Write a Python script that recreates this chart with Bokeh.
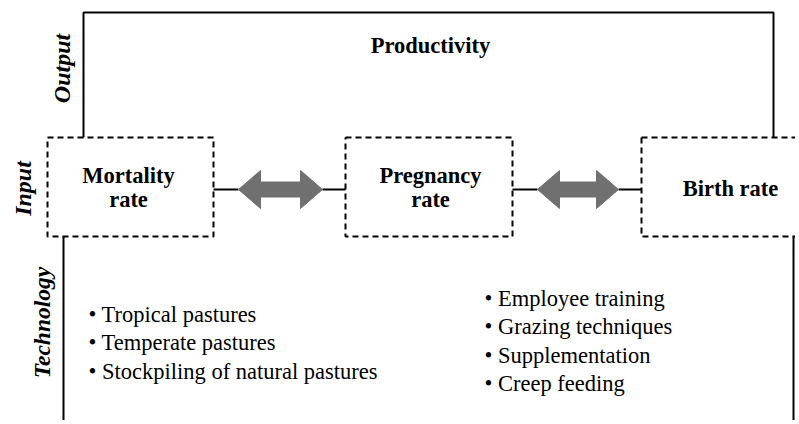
from bokeh.plotting import figure
from bokeh.models import Range1d
from bokeh.core.properties import value
from bokeh.embed import file_html
from bokeh.resources import INLINE
import math

# ---- content ----
output_label = "Output"
input_label = "Input"
tech_label = "Technology"
output_text = "Productivity"
box_lines = [["Mortality", "rate"], ["Pregnancy", "rate"], ["Birth rate"]]
left_bullets = ["Tropical pastures", "Temperate pastures", "Stockpiling of natural pastures"]
right_bullets = ["Employee training", "Grazing techniques", "Supplementation", "Creep feeding"]

# ---- layout constants (pixel space: data coords == image coords) ----
W, H = 795, 420
FONT = "Liberation Serif"
p = figure(width=W, height=H, output_backend="svg", toolbar_location=None,
           x_range=Range1d(0, W), y_range=Range1d(H, 0),
           min_border=0, outline_line_color=None)
p.axis.visible = False
p.grid.visible = False

BLACK = "#000000"
GREY = "#707070"

# Output bracket
p.line([83, 83, 773, 773], [137, 12, 12, 137], line_color=BLACK, line_width=2)

# Dashed input boxes
boxes = [(47, 213), (345, 512), (641, 830)]
for x0, x1 in boxes:
    p.line([x0, x1, x1, x0, x0], [137, 137, 236, 236, 137], line_color=BLACK,
           line_width=2, line_dash="6 4")

# Technology bracket (sides)
p.line([63, 63], [236, 430], line_color=BLACK, line_width=2)
p.line([793, 793], [236, 430], line_color=BLACK, line_width=2)

# Connectors with double arrows
def double_arrow(xa, xb, y, head=22, hh=19, sh=7.5):
    xs = [xa, xa + head, xa + head, xb - head, xb - head, xb, xb - head, xb - head, xa + head, xa + head]
    ys = [y, y - hh, y - sh, y - sh, y - hh, y, y + hh, y + sh, y + sh, y + hh]
    p.patch(xs, ys, fill_color=GREY, line_color=GREY, line_width=1)

CY = 189
for (l0, a0, a1, l1) in [(213, 238, 322, 345), (512, 537, 618, 641)]:
    p.line([l0, a0], [CY, CY], line_color=BLACK, line_width=2)
    p.line([a1, l1], [CY, CY], line_color=BLACK, line_width=2)
    double_arrow(a0, a1, CY)

def txt(x, y, s, size, style="normal", align="center", angle=0.0):
    p.text(x=[x], y=[y], text=[s], text_font=value(FONT), text_font_size=f"{size}px",
           text_font_style=style, text_align=align, text_baseline="middle",
           text_color=BLACK, angle=angle)

txt(430, 45, output_text, 22.5, "bold")
txt(128, 175, box_lines[0][0], 22.5, "bold")
txt(128, 199, box_lines[0][1], 22.5, "bold")
txt(430, 175, box_lines[1][0], 22.5, "bold")
txt(430, 199, box_lines[1][1], 22.5, "bold")
txt(730, 188, box_lines[2][0], 22.5, "bold")

# Rotated side labels
txt(61, 68, output_label, 24, "bold italic", angle=math.pi / 2)
txt(22, 188, input_label, 24, "bold italic", angle=math.pi / 2)
txt(41, 322, tech_label, 23.5, "bold italic", angle=math.pi / 2)

# Bullet lists
for i, s in enumerate(left_bullets):
    txt(88, 314 + 28.3 * i, "\u2022 " + s, 22.5, "normal", align="left")
for i, s in enumerate(right_bullets):
    txt(484, 298 + 28.4 * i, "\u2022 " + s, 22.5, "normal", align="left")

open("out.html", "w").write(file_html(p, INLINE))
